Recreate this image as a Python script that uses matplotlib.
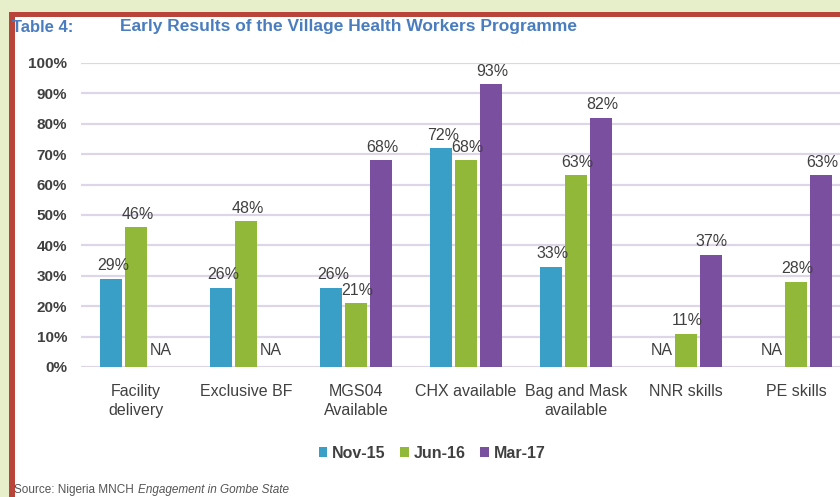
import matplotlib
matplotlib.use("Agg")
import matplotlib.pyplot as plt
from matplotlib.patches import Rectangle
import numpy as np

plt.rcParams['font.family'] = ['Liberation Sans', 'DejaVu Sans']

categories = ['Facility\ndelivery', 'Exclusive BF', 'MGS04\nAvailable', 'CHX available',
              'Bag and Mask\navailable', 'NNR skills', 'PE skills']
series_names = ['Nov-15', 'Jun-16', 'Mar-17']
nov15 = [29, 26, 26, 72, 33, None, None]
jun16 = [46, 48, 21, 68, 63, 11, 28]
mar17 = [None, None, 68, 93, 82, 37, 63]
y_ticks = [0, 10, 20, 30, 40, 50, 60, 70, 80, 90, 100]

colors = ['#3a9fc6', '#92b83a', '#7b4f9f']
text_col = '#404040'

W, H = 840, 497
fig = plt.figure(figsize=(W / 100, H / 100), dpi=100)
fig.patch.set_facecolor('#e7efca')
# frame
fig.add_artist(Rectangle((9 / W, 0), 1, (H - 12) / H, transform=fig.transFigure,
                         facecolor='#b8443a', edgecolor='none', zorder=0))
fig.add_artist(Rectangle((15 / W, 0), 1, (H - 17) / H, transform=fig.transFigure,
                         facecolor='white', edgecolor='none', zorder=0))

ax = fig.add_axes([81 / W, 130 / H, 770 / W, 304 / H])
ax.set_facecolor('none')
x = np.arange(len(categories))
bw = 0.2
offs = [-0.223, 0.0, 0.223]
for i, (vals, c) in enumerate(zip([nov15, jun16, mar17], colors)):
    for xi, v in zip(x, vals):
        xp = xi + offs[i]
        if v is None:
            ax.text(xp, 5.5, 'NA', ha='center', va='center', fontsize=11.5,
                    color=text_col)
            continue
        ax.bar(xp, v, width=bw, color=c, zorder=3)
        ax.annotate(f'{v}%', (xp, v), xytext=(1, 4), textcoords='offset points',
                    ha='center', va='bottom', fontsize=11.5, color=text_col, zorder=4)

for i, c in enumerate(colors):
    ax.bar([np.nan], [np.nan], color=c, label=series_names[i])

ax.set_xlim(-0.5, 6.5)
ax.set_ylim(0, 100)
ax.set_yticks(y_ticks)
ax.set_yticklabels([f'{t}%' for t in y_ticks], fontsize=11, fontweight='bold', color=text_col)
ax.set_xticks(x)
ax.set_xticklabels(categories, fontsize=11.5, color=text_col, linespacing=1.4)
ax.tick_params(axis='both', length=0)
ax.tick_params(axis='y', pad=10)
ax.tick_params(axis='x', pad=12)
ax.grid(axis='y', color='#dcd6e8', linewidth=1.6, zorder=0)
for s in ax.spines.values():
    s.set_visible(False)

leg = fig.legend(loc='center', bbox_to_anchor=(432 / W, 1 - 453 / H), ncol=3, frameon=False,
                 handlelength=0.55, handleheight=0.55, handletextpad=0.3, columnspacing=0.9,
                 prop={'size': 11.5, 'weight': 'bold'})
for t in leg.get_texts():
    t.set_color(text_col)

fig.text(12 / W, 1 - 27 / H, 'Table 4:', fontsize=12, fontweight='bold', color='#4a7dbf',
         va='center', ha='left')
fig.text(120 / W, 1 - 27 / H, 'Early Results of the Village Health Workers Programme',
         fontsize=12.5, fontweight='bold', color='#4a7dbf', va='center', ha='left')
t1 = fig.text(14 / W, 1 - 490 / H, 'Source: Nigeria MNCH', fontsize=8.5, color='#555555',
              va='center', ha='left')
fig.canvas.draw()
bb = t1.get_window_extent(renderer=fig.canvas.get_renderer())
fig.text((bb.x1 + 4) / W, 1 - 490 / H, 'Engagement in Gombe State', fontsize=8.5,
         color='#555555', va='center', ha='left', style='italic')

fig.savefig('out.png', dpi=100, facecolor=fig.get_facecolor())
